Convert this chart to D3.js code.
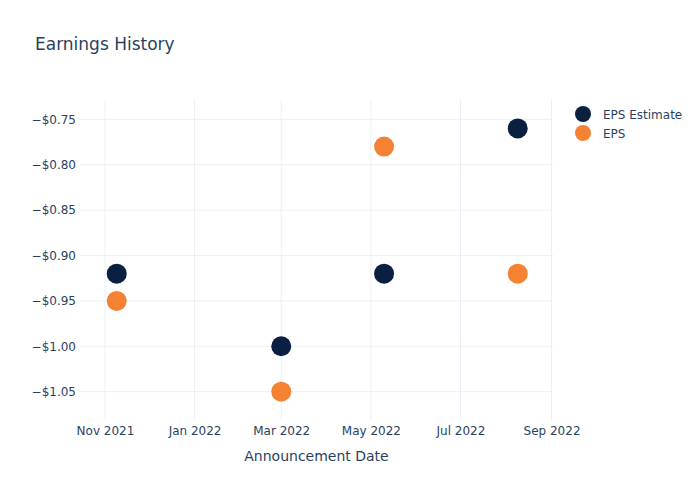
<!DOCTYPE html>
<html><head><meta charset="utf-8">
<script src="https://cdn.jsdelivr.net/npm/d3@7"></script>
<style>body{margin:0;background:#fff}svg{font-family:"DejaVu Sans",sans-serif}</style>
</head><body><svg id="c" width="700" height="500"></svg>
<script>
const dates = ["2021-11-09","2022-03-01","2022-05-10","2022-08-09"];
const epsEstimate = [-0.92,-1.00,-0.92,-0.76];
const eps = [-0.95,-1.05,-0.78,-0.92];
const yTicks = [-0.75,-0.80,-0.85,-0.90,-0.95,-1.00,-1.05];
const xTicks = ["2021-11-01","2022-01-01","2022-03-01","2022-05-01","2022-07-01","2022-09-01"];
const seriesNames = ["EPS Estimate","EPS"];
const colors = ["#0b1f41","#f58233"];

const parse = d3.utcParse("%Y-%m-%d");
const svg = d3.select("#c");
const L=80,R=553,T=100,B=420;
const x = d3.scaleUtc().domain([parse("2021-10-15"), parse("2022-09-02")]).range([L,R]);
const y = d3.scaleLinear().domain([-1.0812,-0.7287]).range([B,T]);
const textColor="#2a3f5f", grid="#ebf0f8";
const ff = "'DejaVu Sans',sans-serif";

svg.append("g").selectAll("line").data(xTicks).join("line")
  .attr("x1",d=>x(parse(d))).attr("x2",d=>x(parse(d))).attr("y1",T).attr("y2",B)
  .attr("stroke",grid).attr("stroke-width",1);
svg.append("g").selectAll("line").data(yTicks).join("line")
  .attr("x1",L).attr("x2",R).attr("y1",d=>y(d)).attr("y2",d=>y(d))
  .attr("stroke",grid).attr("stroke-width",1);

const fmtY = d => "\u2212$" + Math.abs(d).toFixed(2);
const yAxis = d3.axisLeft(y).tickValues(yTicks).tickFormat(fmtY).tickSize(0).tickPadding(3);
const gy = svg.append("g").attr("transform",`translate(${L-1},0)`).call(yAxis);
gy.select(".domain").remove();
gy.selectAll("text").attr("fill",textColor).attr("font-size",12).attr("font-family",ff);

const fmtX = d3.utcFormat("%b %Y");
const xAxis = d3.axisBottom(x).tickValues(xTicks.map(parse)).tickFormat(fmtX).tickSize(0).tickPadding(6);
const gx = svg.append("g").attr("transform",`translate(0,${B})`).call(xAxis);
gx.select(".domain").remove();
gx.selectAll("text").attr("fill",textColor).attr("font-size",12).attr("font-family",ff);

[epsEstimate, eps].forEach((vals,i)=>{
  svg.append("g").selectAll("circle").data(vals).join("circle")
    .attr("cx",(d,j)=>x(parse(dates[j]))).attr("cy",d=>y(d)).attr("r",10)
    .attr("fill",colors[i]);
});

svg.append("text").attr("x",35).attr("y",50).text("Earnings History")
  .attr("fill",textColor).attr("font-size",17).attr("font-family",ff);
svg.append("text").attr("x",(L+R)/2).attr("y",461).attr("text-anchor","middle")
  .text("Announcement Date").attr("fill",textColor).attr("font-size",14).attr("font-family",ff);

seriesNames.forEach((n,i)=>{
  const yy = 114 + i*19;
  svg.append("circle").attr("cx",583).attr("cy",yy).attr("r",8).attr("fill",colors[i]);
  svg.append("text").attr("x",603).attr("y",yy+4.5).text(n).attr("fill",textColor).attr("font-size",12).attr("font-family",ff);
});
</script></body></html>
